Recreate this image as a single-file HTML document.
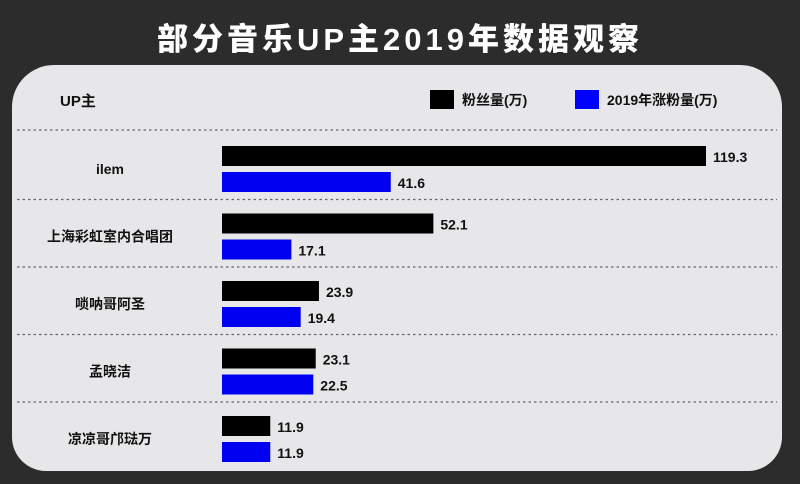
<!DOCTYPE html>
<html><head><meta charset="utf-8"><style>
body{margin:0;width:800px;height:484px;background:#2c2c2c;overflow:hidden;font-family:"Liberation Sans","Noto Sans CJK SC",sans-serif}
#title{position:absolute;left:0;width:800px;top:14px;text-align:center;color:#fff;font-size:31px;font-weight:900;letter-spacing:4px}
#panel{position:absolute;left:12px;top:65px;width:770px;height:406px;background:#e7e7e9;border-radius:42px 42px 34px 34px}
</style></head><body>
<div id="title">部分音乐UP主2019年数据观察</div>
<div id="panel"></div>
<svg id="chart" width="800" height="484" style="position:absolute;left:0;top:0"></svg>
<script>
const categories=["ilem","上海彩虹室内合唱团","唢呐哥阿圣","孟晓洁","凉凉哥邝琺万"];
const fans=[119.3,52.1,23.9,23.1,11.9];
const growth=[41.6,17.1,19.4,22.5,11.9];
const seriesNames=["粉丝量(万)","2019年涨粉量(万)"];
const NS="http://www.w3.org/2000/svg";
const svg=document.getElementById('chart');
const x0=222, pxPer=484/119.3;
const xs=v=>v*pxPer;
const rowTop=i=>146+i*67.5;
function mk(t,a){const e=document.createElementNS(NS,t);for(const k in a)e.setAttribute(k,a[k]);svg.appendChild(e);return e;}
let h=mk('text',{x:60,y:106,'font-size':15,'font-weight':'bold',fill:'#111'});h.textContent='UP主';


const lg=[[430,'#000',462,seriesNames[0]],[575,'#0000ff',607,seriesNames[1]]];
lg.forEach((l,j)=>{
 let r=mk('rect',{x:l[0],y:90,width:24,height:19,fill:l[1]});
 
 
 let t=mk('text',{x:l[2],y:105,'font-size':14,'font-weight':'bold',fill:'#111'});t.textContent=l[3];
 
 
});
for(let i=0;i<5;i++){
 let y=i==0?130:rowTop(i)-14;
 let d=mk('line',{x1:17,x2:777,y1:y,y2:y,stroke:'#666','stroke-width':1.3,'stroke-dasharray':'2.5,3'});
 
 
}
categories.forEach((c,i)=>{
 const y=rowTop(i);
 let t=mk('text',{x:110,y:y+28,'text-anchor':'middle','font-size':14,'font-weight':'bold',fill:'#111'});t.textContent=c;
 
 
 [[fans[i],'#000',y],[growth[i],'#0000f0',y+26]].forEach((b,k)=>{
  let r=mk('rect',{x:x0,y:b[2],width:xs(b[0]),height:20,fill:b[1]});
  
  
  let v=mk('text',{x:x0+xs(b[0])+7,y:b[2]+16,'font-size':14,'font-weight':'bold',fill:'#111'});v.textContent=b[0].toFixed(1);
  
  
 });
});
</script>
</body></html>
